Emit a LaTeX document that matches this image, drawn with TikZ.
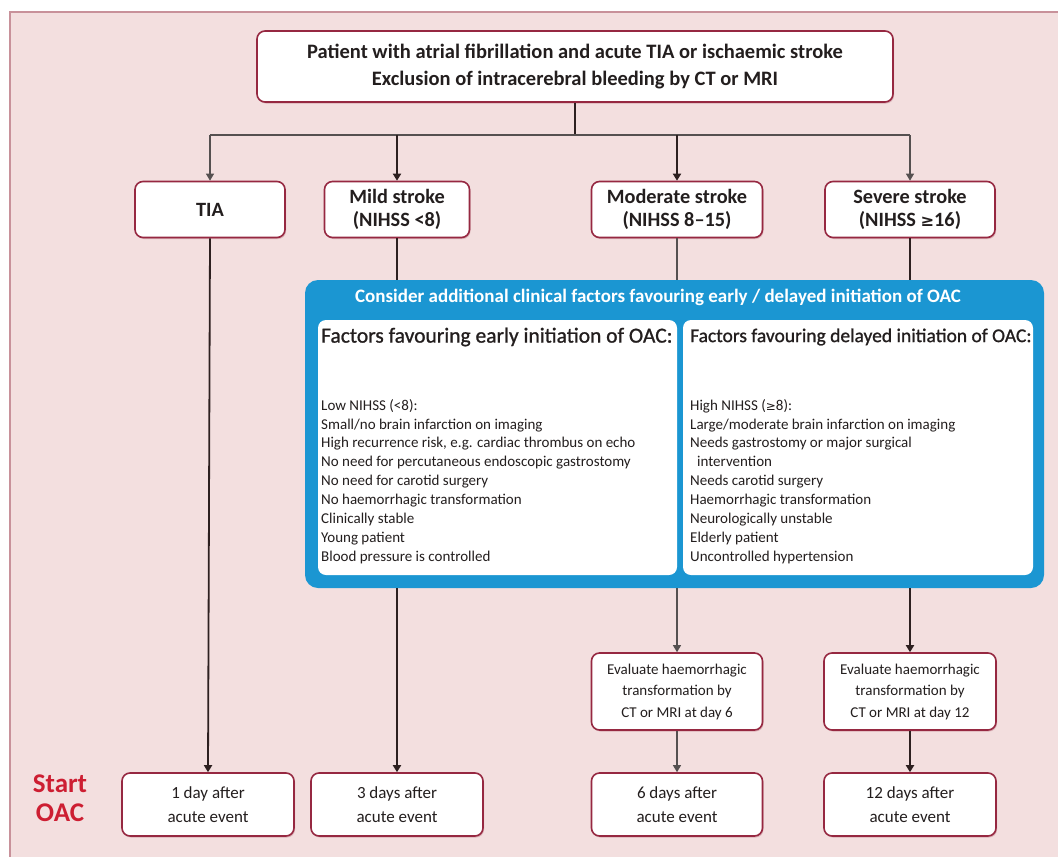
\documentclass[tikz,border=0pt]{standalone}
\usepackage{fontspec}
\setmainfont{Carlito}
\newfontfamily\symfam{DejaVu Sans}
\newcommand{\geqsym}{{\symfam\scalebox{0.8}{≥}}}
\usetikzlibrary{arrows.meta,shadows,positioning}
\definecolor{bgpink}{RGB}{243,223,223}
\definecolor{framepink}{RGB}{200,145,154}
\definecolor{boxred}{RGB}{150,40,65}
\definecolor{oacblue}{RGB}{27,150,210}
\definecolor{linedark}{RGB}{45,32,32}
\definecolor{linegrey}{RGB}{85,80,80}
\definecolor{startred}{RGB}{205,30,50}
\definecolor{txt}{RGB}{35,30,30}
\tikzset{
  rbox/.style={draw=boxred, line width=1.6pt, fill=white, rounded corners=8pt,
    align=center, text=txt, inner sep=2pt,
    drop shadow={shadow xshift=1pt, shadow yshift=-1.5pt, opacity=0.25, fill=boxred}},
  levelbox/.style={rbox, minimum height=56pt, font=\bfseries\fontsize{20.3}{23}\selectfont},
  evalbox/.style={rbox, minimum height=77pt, font=\fontsize{15}{21.5}\selectfont},
  daybox/.style={rbox, minimum height=63pt, minimum width=172pt, font=\fontsize{17}{24}\selectfont},
  thick line/.style={draw=linedark, line width=1.8pt},
  thin line/.style={draw=linegrey, line width=1.1pt},
  tip/.style={-{Triangle[width=8pt,length=7pt]}},
  factorbox/.style={fill=white, rounded corners=8pt, minimum height=255pt, inner sep=0pt},
  listtext/.style={anchor=north west, align=left, text=txt, inner sep=0pt,
    font=\fontsize{15}{18.9}\selectfont},
}
\begin{document}
\begin{tikzpicture}[x=1pt,y=-1pt]
% page and pink panel
\useasboundingbox (0,0) rectangle (1058,857);
\fill[white] (0,0) rectangle (1058,857);
\fill[bgpink] (10,12) rectangle (1058,857);
\draw[framepink, line width=1.5pt] (10,857) -- (10,12) -- (1058,12);

% top entry box
\node[rbox, minimum width=636pt, minimum height=71pt,
      font=\bfseries\fontsize{20.5}{27}\selectfont] (top) at (575,66.5)
  {Patient with atrial fibrillation and acute TIA or ischaemic stroke\\
   Exclusion of intracerebral bleeding by CT or MRI};

% stroke severity boxes
\node[levelbox, minimum width=150pt] (tia) at (210,209.5) {TIA};
\node[levelbox, minimum width=145pt] (mild) at (397,209.5) {Mild stroke\\(NIHSS <8)};
\node[levelbox, minimum width=171pt] (mod) at (677,209.5) {Moderate stroke\\(NIHSS 8–15)};
\node[levelbox, minimum width=170pt] (sev) at (910,209.5) {Severe stroke\\(NIHSS \geqsym16)};

% split of the entry box
\coordinate (split) at (top.south |- 0,135);
\draw[thick line] (top.south) -- (split);
\draw[thin line] (tia.north |- split) -- (sev.north |- split);
\draw[thin line, tip] (tia.north |- split) -- (tia.north);
\draw[thick line, tip] (mild.north |- split) -- (mild.north);
\draw[thick line, tip] (mod.north |- split) -- (mod.north);
\draw[thin line, tip] (sev.north |- split) -- (sev.north);

% clinical factors panel
\node[fill=oacblue, rounded corners=13pt, minimum width=739pt, minimum height=308pt,
      inner sep=0pt] (blue) at (674.5,434) {};
\node[text=white, font=\bfseries\fontsize{19}{22}\selectfont] (bluetitle) at (658,297)
  {Consider additional clinical factors favouring early / delayed initiation of OAC};
\node[factorbox, minimum width=359pt] (early) at (497.5,447.5) {};
\node[factorbox, minimum width=350pt] (late) at (858,447.5) {};

\node[anchor=west, text=txt, inner sep=0pt, font=\fontsize{21.5}{24}\selectfont\addfontfeature{FakeBold=1}] (earlyhead) at (321,337)
  {Factors favouring early initiation of OAC:};
\node[listtext] (earlylist) at (321,399)
  {Low NIHSS (<8):\\
   Small/no brain infarction on imaging\\
   High recurrence risk, e.g. cardiac thrombus on echo\\
   No need for percutaneous endoscopic gastrostomy\\
   No need for carotid surgery\\
   No haemorrhagic transformation\\
   Clinically stable\\
   Young patient\\
   Blood pressure is controlled};

\node[anchor=west, text=txt, inner sep=0pt, font=\fontsize{19.5}{24}\selectfont\addfontfeature{FakeBold=1}] (latehead) at (690,337)
  {Factors favouring delayed initiation of OAC:};
\node[listtext] (latelist) at (690,399)
  {High NIHSS (\geqsym8):\\
   Large/moderate brain infarction on imaging\\
   Needs gastrostomy or major surgical\\
   \hspace*{7pt}intervention\\
   Needs carotid surgery\\
   Haemorrhagic transformation\\
   Neurologically unstable\\
   Elderly patient\\
   Uncontrolled hypertension};

% imaging re-evaluation
\node[evalbox, minimum width=171pt] (evmod) at (677,691.5)
  {Evaluate haemorrhagic\\transformation by\\CT or MRI at day 6};
\node[evalbox, minimum width=172pt] (evsev) at (910,691.5)
  {Evaluate haemorrhagic\\transformation by\\CT or MRI at day 12};

% start of anticoagulation
\node[daybox] (d1) at (208,804.5) {1 day after\\acute event};
\node[daybox] (d3) at (397,804.5) {3 days after\\acute event};
\node[daybox, minimum width=171pt] (d6) at (677,804.5) {6 days after\\acute event};
\node[daybox] (d12) at (910,804.5) {12 days after\\acute event};

\node[text=startred, align=center, font=\bfseries\fontsize{27}{29}\selectfont] (start) at (60,798)
  {Start\\OAC};

% pathways
\draw[thick line, tip] (tia.south) -- (d1.north);
\draw[thick line] (mild.south) -- (mild.south |- blue.north);
\draw[thick line, tip] (mild.south |- blue.south) -- (d3.north);
\draw[thin line] (mod.south) -- (mod.south |- blue.north);
\draw[thin line, tip] (mod.south |- blue.south) -- (evmod.north);
\draw[thin line, tip] (evmod.south) -- (d6.north);
\draw[thick line] (sev.south) -- (sev.south |- blue.north);
\draw[thick line, tip] (sev.south |- blue.south) -- (evsev.north);
\draw[thick line, tip] (evsev.south) -- (d12.north);
\end{tikzpicture}
\end{document}
